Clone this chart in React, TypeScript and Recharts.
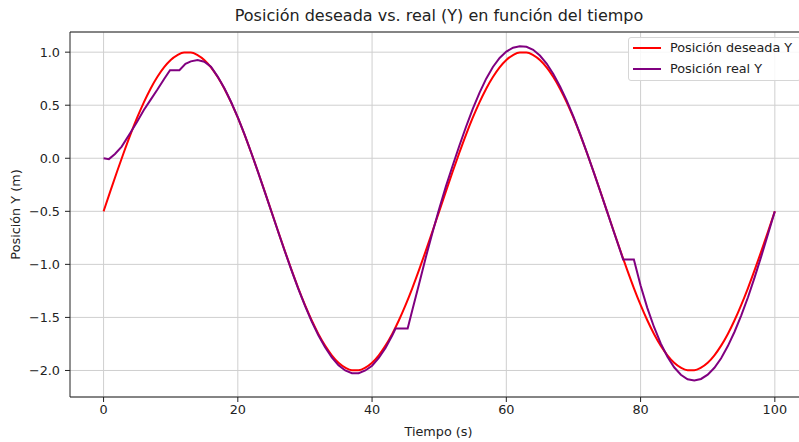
import React from 'react';
import { LineChart, Line, XAxis, YAxis, CartesianGrid, Legend, ReferenceLine } from 'recharts';

const chartTitle = 'Posición deseada vs. real (Y) en función del tiempo';
const xAxisLabel = 'Tiempo (s)';
const yAxisLabel = 'Posición Y (m)';
const seriesDesiredName = 'Posición deseada Y';
const seriesRealName = 'Posición real Y';

const xTicks = [0, 20, 40, 60, 80, 100];
const yTicks = [-2.0, -1.5, -1.0, -0.5, 0.0, 0.5, 1.0];
const xDomain = [-5, 103.6];
const yDomain = [-2.25, 1.19];

const timeDesired = [
  0, 1, 2, 3, 4, 5, 6, 7, 8, 9, 10, 11, 12, 13, 14, 15, 16, 17, 18, 19, 20,
  21, 22, 23, 24, 25, 26, 27, 28, 29, 30, 31, 32, 33, 34, 35, 36, 37, 38, 39, 40,
  41, 42, 43, 44, 45, 46, 47, 48, 49, 50, 51, 52, 53, 54, 55, 56, 57, 58, 59, 60,
  61, 62, 63, 64, 65, 66, 67, 68, 69, 70, 71, 72, 73, 74, 75, 76, 77, 78, 79, 80,
  81, 82, 83, 84, 85, 86, 87, 88, 89, 90, 91, 92, 93, 94, 95, 96, 97, 98, 99, 100,
];
const posDesired = [
  -0.5, -0.312, -0.127, 0.052, 0.223, 0.382, 0.527, 0.656, 0.766, 0.857, 0.927,
  0.973, 0.997, 0.997, 0.973, 0.927, 0.857, 0.766, 0.656, 0.527, 0.382,
  0.223, 0.052, -0.127, -0.312, -0.5, -0.688, -0.873, -1.052, -1.223, -1.382,
  -1.527, -1.656, -1.766, -1.857, -1.927, -1.973, -1.997, -1.997, -1.973, -1.927,
  -1.857, -1.766, -1.656, -1.527, -1.382, -1.223, -1.052, -0.873, -0.688, -0.5,
  -0.312, -0.127, 0.052, 0.223, 0.382, 0.527, 0.656, 0.766, 0.857, 0.927,
  0.973, 0.997, 0.997, 0.973, 0.927, 0.857, 0.766, 0.656, 0.527, 0.382,
  0.223, 0.052, -0.127, -0.312, -0.5, -0.688, -0.873, -1.052, -1.223, -1.382,
  -1.527, -1.656, -1.766, -1.857, -1.927, -1.973, -1.997, -1.997, -1.973, -1.927,
  -1.857, -1.766, -1.656, -1.527, -1.382, -1.223, -1.052, -0.873, -0.688, -0.5,
];

const timeReal = [
  0, 0.8, 1.7, 2.7, 4, 5, 6, 7, 8, 9, 9.9, 11.3, 12.2, 13, 14, 15, 16, 17, 18, 19, 20,
  21, 22, 23, 24, 25, 26, 27, 28, 29, 30, 31, 32, 33, 34, 35, 36, 37, 38, 39, 40,
  41, 42, 43, 43.5, 45.3, 46, 47, 48, 49, 50, 51, 52, 53, 54, 55, 56, 57, 58, 59, 60,
  61, 62, 63, 64, 65, 66, 67, 68, 69, 70, 71, 72, 73, 74, 75, 76, 77, 77.4, 79, 80,
  81, 82, 83, 84, 85, 86, 87, 88, 89, 90, 91, 92, 93, 94, 95, 96, 97, 98, 99, 100,
];
const posReal = [
  0.0, -0.008, 0.04, 0.11, 0.24, 0.345, 0.455, 0.55, 0.645, 0.745, 0.83, 0.83, 0.89, 0.913, 0.925, 0.91, 0.862, 0.77, 0.66, 0.53, 0.385,
  0.225, 0.052, -0.128, -0.314, -0.502, -0.69, -0.876, -1.056, -1.228, -1.388, -1.537, -1.668, -1.782, -1.877, -1.952, -2.0, -2.025, -2.025, -2.0, -1.955,
  -1.882, -1.788, -1.67, -1.605, -1.605, -1.43, -1.185, -0.935, -0.7, -0.475, -0.265, -0.07, 0.118, 0.297, 0.465, 0.617, 0.75, 0.86, 0.945, 1.005,
  1.042, 1.055, 1.05, 1.022, 0.968, 0.893, 0.795, 0.678, 0.543, 0.392, 0.228, 0.053, -0.128, -0.313, -0.5, -0.69, -0.876, -0.955, -0.955, -1.2,
  -1.41, -1.59, -1.745, -1.87, -1.97, -2.04, -2.083, -2.095, -2.08, -2.04, -1.975, -1.885, -1.77, -1.635, -1.48, -1.31, -1.12, -0.92, -0.71, -0.5,
];

const desiredData = timeDesired.map((t, i) => ({ t, y: posDesired[i] }));
const realData = timeReal.map((t, i) => ({ t, y: posReal[i] }));

const FONT = '"DejaVu Sans", Verdana, sans-serif';
const TEXT = '#222222';
const GRID = '#cfcfcf';
const RED = '#ff0000';
const PURPLE = '#800080';

const fmtY = (v: number) => v.toFixed(1).replace('-', '\u2212');

const LegendBox = () => (
  <div
    style={{
      position: 'relative',
      width: 173,
      height: 44,
      boxSizing: 'border-box',
      border: '1px solid #d6d6d6',
      borderRadius: 3,
      background: 'rgba(255,255,255,0.85)',
      fontFamily: FONT,
      fontSize: 12.8,
      color: TEXT,
    }}
  >
    {[
      { name: seriesDesiredName, color: RED, top: 10 },
      { name: seriesRealName, color: PURPLE, top: 31 },
    ].map((r) => (
      <React.Fragment key={r.name}>
        <div style={{ position: 'absolute', left: 4, top: r.top - 1, width: 28, height: 2, background: r.color }} />
        <div style={{ position: 'absolute', left: 41, top: r.top - 8, lineHeight: '16px', whiteSpace: 'nowrap' }}>{r.name}</div>
      </React.Fragment>
    ))}
  </div>
);

export default function App() {
  return (
    <div style={{ position: 'absolute', left: 0, top: 0, width: 799, height: 442, overflow: 'hidden', background: '#fff' }}>
      <style>{'html,body{margin:0;overflow:hidden;}'}</style>
      <div
        style={{
          position: 'absolute',
          left: 0,
          top: 6,
          width: 878,
          textAlign: 'center',
          fontFamily: FONT,
          fontSize: 16,
          lineHeight: '20px',
          color: TEXT,
          whiteSpace: 'nowrap',
        }}
      >
        {chartTitle}
      </div>
      <LineChart width={799} height={442} margin={{ top: 32, right: 0, bottom: 15, left: 0 }}>
        <CartesianGrid stroke={GRID} strokeWidth={1} vertical={false} />
        {xTicks.map((t) => (
          <ReferenceLine key={'gx' + t} x={t} stroke={GRID} strokeWidth={1} />
        ))}
        <XAxis
          type="number"
          dataKey="t"
          domain={xDomain}
          allowDataOverflow
          ticks={xTicks}
          height={30}
          tickSize={5}
          tickMargin={3}
          tick={{ fontSize: 12.8, fill: TEXT, fontFamily: FONT }}
          tickLine={{ stroke: TEXT }}
          axisLine={{ stroke: TEXT }}
          label={{ value: xAxisLabel, position: 'bottom', offset: 0, dx: 4, style: { fontSize: 12.8, fill: TEXT, fontFamily: FONT } }}
        />
        <YAxis
          type="number"
          domain={yDomain}
          allowDataOverflow
          ticks={yTicks}
          width={70}
          tickSize={5}
          tickMargin={5}
          tickFormatter={fmtY}
          tick={{ fontSize: 12.8, fill: TEXT, fontFamily: FONT }}
          tickLine={{ stroke: TEXT }}
          axisLine={{ stroke: TEXT }}
          label={{ value: yAxisLabel, angle: -90, position: 'insideLeft', offset: 15, style: { textAnchor: 'middle', fontSize: 12.8, fill: TEXT, fontFamily: FONT } }}
        />
        <ReferenceLine y={yDomain[1]} stroke={TEXT} strokeWidth={1} ifOverflow="visible" />
        <Legend
          layout="vertical"
          align="center"
          verticalAlign="middle"
          wrapperStyle={{ left: 628, top: 37, width: 173, height: 44 }}
          content={() => <LegendBox />}
        />
        <Line
          data={desiredData}
          dataKey="y"
          name={seriesDesiredName}
          type="monotone"
          stroke={RED}
          strokeWidth={2}
          dot={false}
          isAnimationActive={false}
        />
        <Line
          data={realData}
          dataKey="y"
          name={seriesRealName}
          type="linear"
          stroke={PURPLE}
          strokeWidth={2}
          dot={false}
          isAnimationActive={false}
        />
      </LineChart>
    </div>
  );
}
